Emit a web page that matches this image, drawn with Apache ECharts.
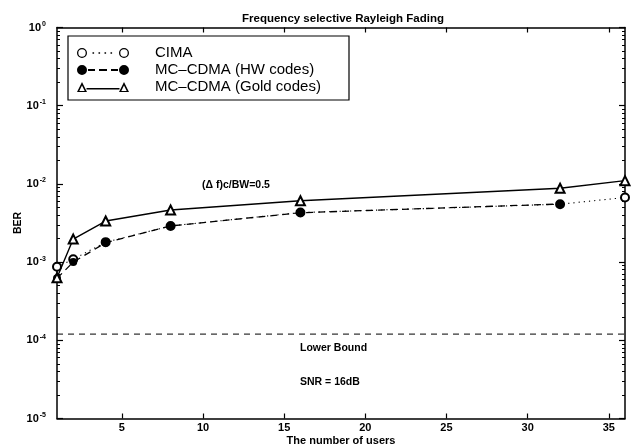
<!DOCTYPE html>
<html>
<head>
<meta charset="utf-8">
<script src="https://cdn.jsdelivr.net/npm/echarts@6/dist/echarts.min.js"></script>
<style>
html,body{margin:0;padding:0;background:#fff;}
#c{width:635px;height:448px;}
</style>
</head>
<body>
<div id="c"></div>
<script>
// ---- data ----
const cimaUsers = [1, 2, 4, 8, 16, 32, 36];
const cimaBER = [8.7e-4, 1.09e-3, 1.8e-3, 2.9e-3, 4.3e-3, 5.5e-3, 6.7e-3];
const hwUsers = [1, 2, 4, 8, 16, 32];
const hwBER = [6.2e-4, 1.0e-3, 1.77e-3, 2.9e-3, 4.28e-3, 5.53e-3];
const goldUsers = [1, 2, 4, 8, 16, 32, 36];
const goldBER = [6.3e-4, 1.97e-3, 3.35e-3, 4.64e-3, 6.1e-3, 8.8e-3, 1.1e-2];
const lowerBoundUsers = [1, 36];
const lowerBoundBER = [1.2e-4, 1.2e-4];
const xTicks = [5, 10, 15, 20, 25, 30, 35];
const yDecades = [1e-5, 1e-4, 1e-3, 1e-2, 1e-1, 1];
const seriesNames = ['CIMA', 'MC\u2013CDMA (HW codes)', 'MC\u2013CDMA (Gold codes)'];
const titleText = 'Frequency selective Rayleigh Fading';
const xName = 'The number of users';
const yName = 'BER';

const yMinor = [];
for (let d = -5; d < 0; d++) for (let k = 2; k <= 9; k++) yMinor.push(k * Math.pow(10, d));

const zip = (xs, ys) => xs.map((x, i) => [x, ys[i]]);
const FONT = 'Liberation Sans, Arial, Helvetica, sans-serif';

// legend icon paths (52 x 10 box)
function ring(cx, cy, R, r) {
  return `M${cx-R} ${cy} A${R} ${R} 0 1 1 ${cx+R} ${cy} A${R} ${R} 0 1 1 ${cx-R} ${cy} Z ` +
         `M${cx-r} ${cy} A${r} ${r} 0 1 0 ${cx+r} ${cy} A${r} ${r} 0 1 0 ${cx-r} ${cy} Z `;
}
function disc(cx, cy, R) {
  return `M${cx-R} ${cy} A${R} ${R} 0 1 1 ${cx+R} ${cy} A${R} ${R} 0 1 1 ${cx-R} ${cy} Z `;
}
function rect(x1, y1, x2, y2) {
  return `M${x1} ${y1} L${x2} ${y1} L${x2} ${y2} L${x1} ${y2} Z `;
}
function triRing(x0) {
  return `M${x0} 10 L${x0+5} 0 L${x0+10} 10 Z M${x0+2.3} 8.9 L${x0+7.7} 8.9 L${x0+5} 3.4 Z `;
}
const iconCima = 'path://' + ring(5,5,5,3.7) + rect(15.5,4.2,17.1,5.8) + rect(21.5,4.2,23.1,5.8) + rect(27.5,4.2,29.1,5.8) + rect(33.5,4.2,35.1,5.8) + ring(47,5,5,3.7);
const iconHw = 'path://' + disc(5,5,5) + rect(11,4,18,6) + rect(22,4,30,6) + rect(34,4,41,6) + disc(47,5,5);
const iconGold = 'path://' + triRing(0) + rect(9.5,6,42.5,7.4) + triRing(42);

const chart = echarts.init(document.getElementById('c'), null, {renderer: 'canvas'});

const axisLineStyle = {color: '#000', width: 1.5};
const option = {
  backgroundColor: '#fff',
  animation: false,
  textStyle: {fontFamily: FONT},
  grid: {left: 57, right: 10, top: 27.5, bottom: 29.5, containLabel: false, outerBoundsMode: 'none'},
  title: {
    text: titleText, left: 338, top: 8, textAlign: 'center',
    textStyle: {fontSize: 11.5, fontWeight: 'bold', color: '#000', fontFamily: FONT}
  },
  legend: {
    orient: 'vertical', left: 68, top: 36, padding: [8.5, 5, 5, 9], itemGap: 0,
    itemWidth: 52, itemHeight: 10, selectedMode: false,
    itemStyle: {borderWidth: 0, color: '#000'},
    textStyle: {fontSize: 15, color: '#000', fontFamily: FONT, lineHeight: 17, padding: [0, 0, 0, 21]},
    data: [
      {name: seriesNames[0], icon: iconCima},
      {name: seriesNames[1], icon: iconHw},
      {name: seriesNames[2], icon: iconGold}
    ]
  },
  xAxis: [
    {
      type: 'value', min: 1, max: 36, position: 'bottom',
      axisLine: {show: true, lineStyle: axisLineStyle},
      axisTick: {show: true, inside: true, length: 5, customValues: xTicks, lineStyle: {color: '#000', width: 1.2}},
      axisLabel: {customValues: xTicks, color: '#000', fontSize: 11, fontWeight: 'bold', margin: 4, fontFamily: FONT},
      splitLine: {show: false},
      name: xName, nameLocation: 'middle', nameGap: 17, nameMoveOverlap: false,
      nameTextStyle: {fontSize: 11, fontWeight: 'bold', color: '#000', fontFamily: FONT}
    },
    {
      type: 'value', min: 1, max: 36, position: 'top',
      axisLine: {show: true, lineStyle: axisLineStyle},
      axisTick: {show: true, inside: true, length: 5, customValues: xTicks, lineStyle: {color: '#000', width: 1.2}},
      axisLabel: {show: false}, splitLine: {show: false}
    }
  ],
  yAxis: [
    {
      type: 'log', logBase: 10, min: 1e-5, max: 1, position: 'left',
      axisLine: {show: true, lineStyle: axisLineStyle},
      axisTick: {show: true, inside: true, length: 6, customValues: yDecades, lineStyle: {color: '#000', width: 1.2}},
      axisLabel: {
        customValues: yDecades, margin: 11, color: '#000',
        formatter: v => '{b|10}{s|' + Math.round(Math.log10(v)) + '}',
        rich: {
          b: {fontSize: 11, fontWeight: 'bold', color: '#000', fontFamily: FONT},
          s: {fontSize: 7, fontWeight: 'bold', color: '#000', fontFamily: FONT, padding: [0, 0, 7, 1]}
        }
      },
      splitLine: {show: false},
      name: yName, nameLocation: 'middle', nameGap: 33, nameRotate: 90, nameMoveOverlap: false,
      nameTextStyle: {fontSize: 10.5, fontWeight: 'bold', color: '#000', fontFamily: FONT}
    },
    {
      type: 'log', logBase: 10, min: 1e-5, max: 1, position: 'left', offset: 0,
      axisLine: {show: false},
      axisTick: {show: true, inside: true, length: 3, customValues: yMinor, lineStyle: {color: '#000', width: 1}},
      axisLabel: {show: false}, splitLine: {show: false}
    },
    {
      type: 'log', logBase: 10, min: 1e-5, max: 1, position: 'right', offset: 0,
      axisLine: {show: true, lineStyle: axisLineStyle},
      axisTick: {show: true, inside: true, length: 6, customValues: yDecades, lineStyle: {color: '#000', width: 1.2}},
      axisLabel: {show: false}, splitLine: {show: false}
    },
    {
      type: 'log', logBase: 10, min: 1e-5, max: 1, position: 'right', offset: 0,
      axisLine: {show: false},
      axisTick: {show: true, inside: true, length: 3, customValues: yMinor, lineStyle: {color: '#000', width: 1}},
      axisLabel: {show: false}, splitLine: {show: false}
    }
  ],
  series: [
    {
      name: 'Lower Bound', type: 'line', data: zip(lowerBoundUsers, lowerBoundBER),
      showSymbol: false, symbol: 'none', silent: true,
      lineStyle: {color: '#000', width: 1, type: [6, 5]}
    },
    {
      name: seriesNames[0], type: 'line', data: zip(cimaUsers, cimaBER),
      symbol: 'emptyCircle', symbolSize: 8,
      itemStyle: {color: '#000', borderWidth: 1.2},
      lineStyle: {color: '#000', width: 1.1, type: [1.2, 4]}
    },
    {
      name: seriesNames[1], type: 'line', data: zip(hwUsers, hwBER),
      symbol: 'circle', symbolSize: 8,
      itemStyle: {color: '#000'},
      lineStyle: {color: '#000', width: 1.3, type: [7, 5]}
    },
    {
      name: seriesNames[2], type: 'line', data: zip(goldUsers, goldBER),
      symbol: 'emptyTriangle', symbolSize: 9,
      itemStyle: {color: '#000', borderWidth: 1.2},
      lineStyle: {color: '#000', width: 1.4}
    }
  ],
  graphic: [
    {type: 'rect', shape: {x: 68, y: 36, width: 281, height: 64}, style: {fill: 'none', stroke: '#000', lineWidth: 1.2}, z: 100},
    {type: 'text', x: 202, y: 185, style: {text: '(\u0394 f)c/BW=0.5', font: 'bold 10.5px ' + FONT, fill: '#000', textVerticalAlign: 'middle'}, z: 100},
    {type: 'text', x: 300, y: 348, style: {text: 'Lower Bound', font: 'bold 10.5px ' + FONT, fill: '#000', textVerticalAlign: 'middle'}, z: 100},
    {type: 'text', x: 300, y: 382, style: {text: 'SNR = 16dB', font: 'bold 10.5px ' + FONT, fill: '#000', textVerticalAlign: 'middle'}, z: 100}
  ]
};
chart.setOption(option);
</script>
</body>
</html>
